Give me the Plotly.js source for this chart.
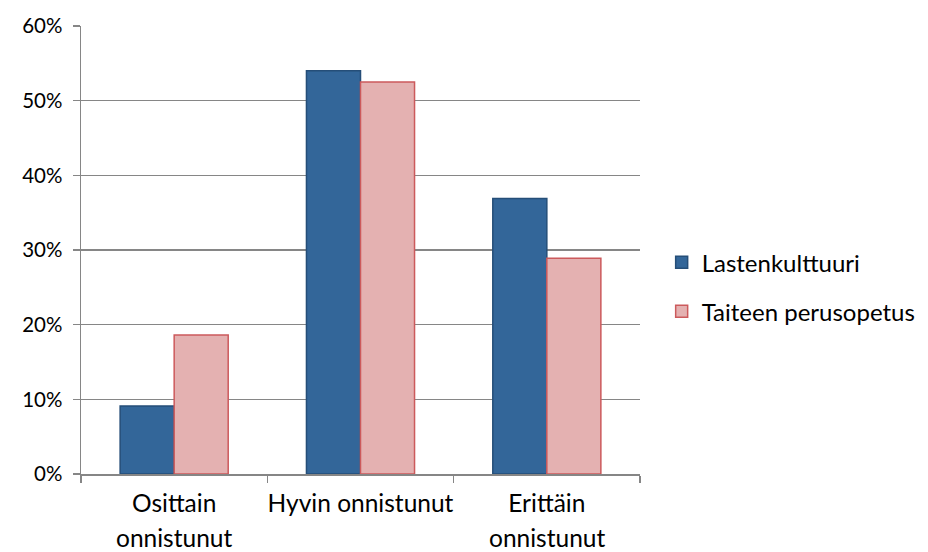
<!DOCTYPE html>
<html>
<head>
<meta charset="utf-8">
<script src="https://cdn.plot.ly/plotly-3.0.1.min.js"></script>
<style>html,body{margin:0;padding:0;background:#fff;}#chart{width:928px;height:552px;}</style>
</head>
<body>
<div id="chart"></div>
<script>
const categories = ["Osittain onnistunut", "Hyvin onnistunut", "Erittäin onnistunut"];
const tickLine1 = ["Osittain", "Hyvin onnistunut", "Erittäin"];
const tickLine2 = ["onnistunut", "", "onnistunut"];
const lastenkulttuuri = [0.091, 0.540, 0.369];
const taiteenPerusopetus = [0.186, 0.525, 0.289];
const seriesNames = ["Lastenkulttuuri", "Taiteen perusopetus"];
const yTickVals = [0, 0.1, 0.2, 0.3, 0.4, 0.5, 0.6];

const FONT = "Lato, 'Open Sans', sans-serif";
const axisColor = "#868686";

const traces = [
  {
    type: "bar", name: seriesNames[0], x: categories, y: lastenkulttuuri,
    legendgroup: "a",
    marker: {color: "#336699", line: {color: "#254e78", width: 1.5}},
    hoverinfo: "none"
  },
  {
    type: "bar", name: seriesNames[1], x: categories, y: taiteenPerusopetus,
    legendgroup: "b",
    marker: {color: "#e4b1b1", line: {color: "#cc5a5c", width: 1.5}},
    hoverinfo: "none"
  }
];

const annotations = categories.map((c, i) => ({
  x: c, xref: "x", y: 0, yref: "paper", yshift: -63,
  text: tickLine2[i], showarrow: false, yanchor: "middle",
  font: {family: FONT, size: 24.5, color: "#000"}
}));

const layout = {
  width: 928, height: 552,
  margin: {l: 81, r: 288, t: 26, b: 78, pad: 0, autoexpand: false},
  paper_bgcolor: "#fff", plot_bgcolor: "#fff",
  barmode: "group", bargap: 0.42, bargroupgap: 0,
  font: {family: FONT, size: 20, color: "#000"},
  showlegend: true,
  legend: {
    xref: "container", yref: "container",
    x: 0.713, xanchor: "left", y: 0.48, yanchor: "middle",
    traceorder: "grouped", tracegroupgap: 15,
    font: {family: FONT, size: 24, color: "#000"},
    itemwidth: 30
  },
  xaxis: {
    type: "category", tickmode: "array", tickvals: categories, ticktext: tickLine1,
    tickangle: 0,
    tickfont: {family: FONT, size: 24.5, color: "#000"},
    showline: true, linecolor: axisColor, linewidth: 1.5,
    ticks: "outside", tickson: "boundaries", ticklen: 7, tickcolor: axisColor, tickwidth: 1.5,
    showgrid: false, zeroline: false, ticklabelstandoff: 7,
    range: [-0.5, 2.5]
  },
  yaxis: {
    range: [0, 0.6], tickvals: yTickVals, tickformat: ".0%",
    tickfont: {family: FONT, size: 20.5, color: "#000"},
    showline: true, linecolor: axisColor, linewidth: 1.5,
    ticks: "outside", ticklen: 7, tickcolor: axisColor, tickwidth: 1.5,
    showgrid: true, gridcolor: axisColor, gridwidth: 1.5,
    zeroline: false, ticklabelstandoff: 6
  },
  annotations: annotations
};

Plotly.newPlot("chart", traces, layout, {staticPlot: true, displayModeBar: false});
</script>
</body>
</html>
